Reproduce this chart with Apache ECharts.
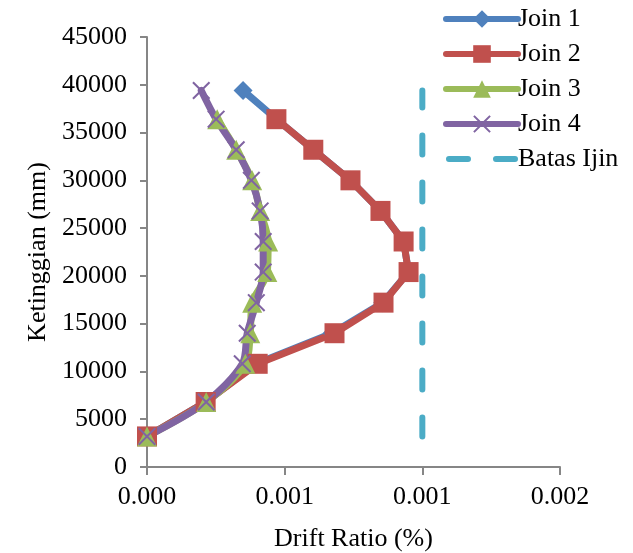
<!DOCTYPE html>
<html>
<head>
<meta charset="utf-8">
<script src="https://cdn.jsdelivr.net/npm/echarts@6/dist/echarts.min.js"></script>
<style>
  html, body { margin: 0; padding: 0; background: #fff; }
  #chart { width: 633px; height: 553px; }
</style>
</head>
<body>
<div id="chart"></div>
<script>
// Storey heights (mm)
var heights = [3200, 6800, 10800, 14000, 17200, 20400, 23600, 26800, 30000, 33200, 36400, 39400];

// Drift ratio per storey for each joint
var join1 = [0, 0.000213, 0.000396, 0.000672, 0.000856, 0.000950, 0.000932, 0.000848, 0.000739, 0.000604, 0.000470, 0.000349];
var join2 = [0, 0.000213, 0.000402, 0.000681, 0.000859, 0.000950, 0.000932, 0.000848, 0.000739, 0.000604, 0.000470];
var join3 = [0, 0.000215, 0.000357, 0.000375, 0.000382, 0.000437, 0.000440, 0.000411, 0.000382, 0.000324, 0.000255];
var join4 = [0, 0.000215, 0.000346, 0.000364, 0.000397, 0.000422, 0.000422, 0.000411, 0.000379, 0.000324, 0.000251, 0.000197];

// Allowable drift limit line
var batasX = [0.001, 0.001];
var batasY = [3200, 39400];

// Axis tick labels
var xTickLabels = ['0.000', '0.001', '0.001', '0.002'];
var xInterval = 0.0005;

function pairs(xs, ys) {
  return xs.map(function (x, i) { return [x, ys[i]]; });
}

var FONT = '"Liberation Serif", "Times New Roman", serif';
var LINE_W = 7;
var crossPath = 'path://M0,1.6 L1.6,0 L10,8.4 L18.4,0 L20,1.6 L11.6,10 L20,18.4 L18.4,20 L10,11.6 L1.6,20 L0,18.4 L8.4,10 Z';
// Two rounded dashes on a 72x22 box (corner dots fix the box size)
var dashIcon = 'path://M0,0 L0.01,0 L0.01,0.01 Z M72,22 L71.99,22 L71.99,21.99 Z ' +
  'M3,8 L22,8 A3,3 0 0 1 22,14 L3,14 A3,3 0 0 1 3,8 Z ' +
  'M50,8 L69,8 A3,3 0 0 1 69,14 L50,14 A3,3 0 0 1 50,8 Z';

var chart = echarts.init(document.getElementById('chart'), null, { renderer: 'canvas' });

chart.setOption({
  animation: false,
  backgroundColor: '#ffffff',
  textStyle: { fontFamily: FONT, color: '#000' },
  grid: { left: 147, right: 73, top: 37, bottom: 86, containLabel: false, outerBoundsMode: 'none' },
  legend: {
    orient: 'vertical',
    left: 438,
    top: 1,
    itemWidth: 72,
    itemHeight: 22,
    itemGap: 9,
    lineStyle: { width: 6, cap: 'round' },
    textStyle: { fontFamily: FONT, fontSize: 26, color: '#000', padding: [0, 0, 0, -5] },
    data: [
      { name: 'Join 1' },
      { name: 'Join 2' },
      { name: 'Join 3' },
      { name: 'Join 4' },
      { name: 'Batas Ijin', icon: dashIcon, itemStyle: { color: '#4BACC6' } }
    ]
  },
  xAxis: {
    type: 'value',
    min: 0,
    max: 0.0015,
    interval: xInterval,
    name: 'Drift Ratio (%)',
    nameLocation: 'middle',
    nameGap: 59,
    nameTextStyle: { fontFamily: FONT, fontSize: 26, color: '#000' },
    axisLine: { show: true, lineStyle: { color: '#868686', width: 2 } },
    axisTick: { show: true, length: 8, lineStyle: { color: '#868686', width: 2 } },
    axisLabel: {
      fontFamily: FONT, fontSize: 26, color: '#000', margin: 17,
      formatter: function (v) { return xTickLabels[Math.round(v / xInterval)]; }
    },
    splitLine: { show: false }
  },
  yAxis: {
    type: 'value',
    min: 0,
    max: 45000,
    interval: 5000,
    name: 'Ketinggian (mm)',
    nameLocation: 'middle',
    nameGap: 90,
    nameRotate: 90,
    nameTextStyle: { fontFamily: FONT, fontSize: 26, color: '#000' },
    axisLine: { show: true, lineStyle: { color: '#868686', width: 2 } },
    axisTick: { show: true, length: 7, lineStyle: { color: '#868686', width: 2 } },
    axisLabel: {
      fontFamily: FONT, fontSize: 26, color: '#000', margin: 20,
      formatter: function (v) { return String(v); }
    },
    splitLine: { show: false }
  },
  series: [
    {
      name: 'Join 1', type: 'line', data: pairs(join1, heights),
      symbol: 'diamond', symbolSize: 19,
      lineStyle: { color: '#4F81BD', width: LINE_W, cap: 'round', join: 'round' },
      itemStyle: { color: '#4F81BD' }
    },
    {
      name: 'Join 2', type: 'line', data: pairs(join2, heights),
      symbol: 'rect', symbolSize: 20,
      lineStyle: { color: '#C0504D', width: LINE_W, cap: 'round', join: 'round' },
      itemStyle: { color: '#C0504D' }
    },
    {
      name: 'Join 3', type: 'line', data: pairs(join3, heights), smooth: 0.3,
      symbol: 'triangle', symbolSize: 20,
      lineStyle: { color: '#9BBB59', width: LINE_W, cap: 'round', join: 'round' },
      itemStyle: { color: '#9BBB59' }
    },
    {
      name: 'Join 4', type: 'line', data: pairs(join4, heights), smooth: 0.3,
      symbol: crossPath, symbolSize: 18,
      lineStyle: { color: '#8064A2', width: LINE_W, cap: 'round', join: 'round' },
      itemStyle: { color: '#8064A2' }
    },
    {
      name: 'Batas Ijin', type: 'line', data: pairs(batasX, batasY),
      symbol: 'none',
      lineStyle: { color: '#4BACC6', width: 6, type: [19, 28], cap: 'round' },
      itemStyle: { color: '#4BACC6' }
    }
  ]
});
</script>
</body>
</html>
